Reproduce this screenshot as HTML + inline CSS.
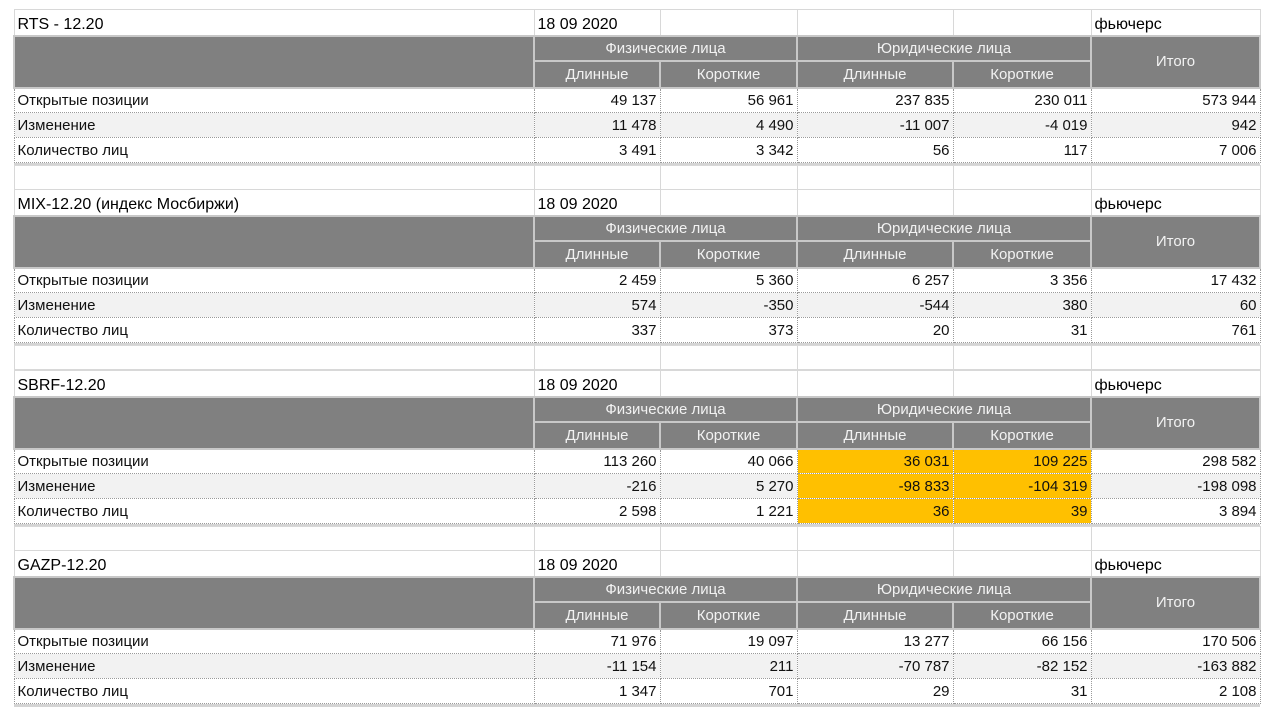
<!DOCTYPE html>
<html><head><meta charset="utf-8"><style>
body{margin:0;width:1272px;height:720px;background:#fff;overflow:hidden;font-family:"Liberation Sans",Arial,sans-serif;}
table{position:absolute;left:13px;border-collapse:collapse;table-layout:fixed;width:1246px;}
td{padding:0 3px;font-size:15px;color:#111;white-space:nowrap;overflow:hidden;border:1px solid #d8d8d8;box-sizing:border-box;}
tr.t td{height:26px;font-size:16px;color:#000;vertical-align:bottom;padding-bottom:1px;}
tr.h td{background:#808080;color:#f2f2f2;text-align:center;border:2px solid #c8c8c8;font-size:15px;}
tr.h1 td{height:25px;}
tr.h2 td{height:27px;}
tr.d td{height:25px;text-align:right;border:1px dotted #9a9a9a;}
tr.d td:first-child{text-align:left;}
tr.g td{background:#f2f2f2;}
tr.s td{height:3px;padding:0;background:#d4d4d4;border:none;}
tr.b td{height:24px;}
td.o{background:#ffc000 !important;}
</style></head><body>

<table style="top:9px">
<colgroup><col style="width:520px"><col style="width:126px"><col style="width:137px"><col style="width:156px"><col style="width:138px"><col style="width:169px"></colgroup>
<tr class="t"><td>RTS - 12.20</td><td>18 09 2020</td><td></td><td></td><td></td><td>фьючерс</td></tr>
<tr class="h h1"><td rowspan="2"></td><td colspan="2">Физические лица</td><td colspan="2">Юридические лица</td><td rowspan="2">Итого</td></tr>
<tr class="h h2"><td>Длинные</td><td>Короткие</td><td>Длинные</td><td>Короткие</td></tr>
<tr class="d"><td>Открытые позиции</td><td>49 137</td><td>56 961</td><td>237 835</td><td>230 011</td><td>573 944</td></tr>
<tr class="d g"><td>Изменение</td><td>11 478</td><td>4 490</td><td>-11 007</td><td>-4 019</td><td>942</td></tr>
<tr class="d"><td>Количество лиц</td><td>3 491</td><td>3 342</td><td>56</td><td>117</td><td>7 006</td></tr>
<tr class="s"><td colspan="6"></td></tr>
<tr class="b"><td></td><td></td><td></td><td></td><td></td><td></td></tr>
</table>

<table style="top:189px">
<colgroup><col style="width:520px"><col style="width:126px"><col style="width:137px"><col style="width:156px"><col style="width:138px"><col style="width:169px"></colgroup>
<tr class="t"><td>MIX-12.20 (индекс Мосбиржи)</td><td>18 09 2020</td><td></td><td></td><td></td><td>фьючерс</td></tr>
<tr class="h h1"><td rowspan="2"></td><td colspan="2">Физические лица</td><td colspan="2">Юридические лица</td><td rowspan="2">Итого</td></tr>
<tr class="h h2"><td>Длинные</td><td>Короткие</td><td>Длинные</td><td>Короткие</td></tr>
<tr class="d"><td>Открытые позиции</td><td>2 459</td><td>5 360</td><td>6 257</td><td>3 356</td><td>17 432</td></tr>
<tr class="d g"><td>Изменение</td><td>574</td><td>-350</td><td>-544</td><td>380</td><td>60</td></tr>
<tr class="d"><td>Количество лиц</td><td>337</td><td>373</td><td>20</td><td>31</td><td>761</td></tr>
<tr class="s"><td colspan="6"></td></tr>
<tr class="b"><td></td><td></td><td></td><td></td><td></td><td></td></tr>
</table>

<table style="top:370px">
<colgroup><col style="width:520px"><col style="width:126px"><col style="width:137px"><col style="width:156px"><col style="width:138px"><col style="width:169px"></colgroup>
<tr class="t"><td>SBRF-12.20</td><td>18 09 2020</td><td></td><td></td><td></td><td>фьючерс</td></tr>
<tr class="h h1"><td rowspan="2"></td><td colspan="2">Физические лица</td><td colspan="2">Юридические лица</td><td rowspan="2">Итого</td></tr>
<tr class="h h2"><td>Длинные</td><td>Короткие</td><td>Длинные</td><td>Короткие</td></tr>
<tr class="d"><td>Открытые позиции</td><td>113 260</td><td>40 066</td><td class="o">36 031</td><td class="o">109 225</td><td>298 582</td></tr>
<tr class="d g"><td>Изменение</td><td>-216</td><td>5 270</td><td class="o">-98 833</td><td class="o">-104 319</td><td>-198 098</td></tr>
<tr class="d"><td>Количество лиц</td><td>2 598</td><td>1 221</td><td class="o">36</td><td class="o">39</td><td>3 894</td></tr>
<tr class="s"><td colspan="6"></td></tr>
<tr class="b"><td></td><td></td><td></td><td></td><td></td><td></td></tr>
</table>

<table style="top:550px">
<colgroup><col style="width:520px"><col style="width:126px"><col style="width:137px"><col style="width:156px"><col style="width:138px"><col style="width:169px"></colgroup>
<tr class="t"><td>GAZP-12.20</td><td>18 09 2020</td><td></td><td></td><td></td><td>фьючерс</td></tr>
<tr class="h h1"><td rowspan="2"></td><td colspan="2">Физические лица</td><td colspan="2">Юридические лица</td><td rowspan="2">Итого</td></tr>
<tr class="h h2"><td>Длинные</td><td>Короткие</td><td>Длинные</td><td>Короткие</td></tr>
<tr class="d"><td>Открытые позиции</td><td>71 976</td><td>19 097</td><td>13 277</td><td>66 156</td><td>170 506</td></tr>
<tr class="d g"><td>Изменение</td><td>-11 154</td><td>211</td><td>-70 787</td><td>-82 152</td><td>-163 882</td></tr>
<tr class="d"><td>Количество лиц</td><td>1 347</td><td>701</td><td>29</td><td>31</td><td>2 108</td></tr>
<tr class="s"><td colspan="6"></td></tr>
</table>

</body></html>
